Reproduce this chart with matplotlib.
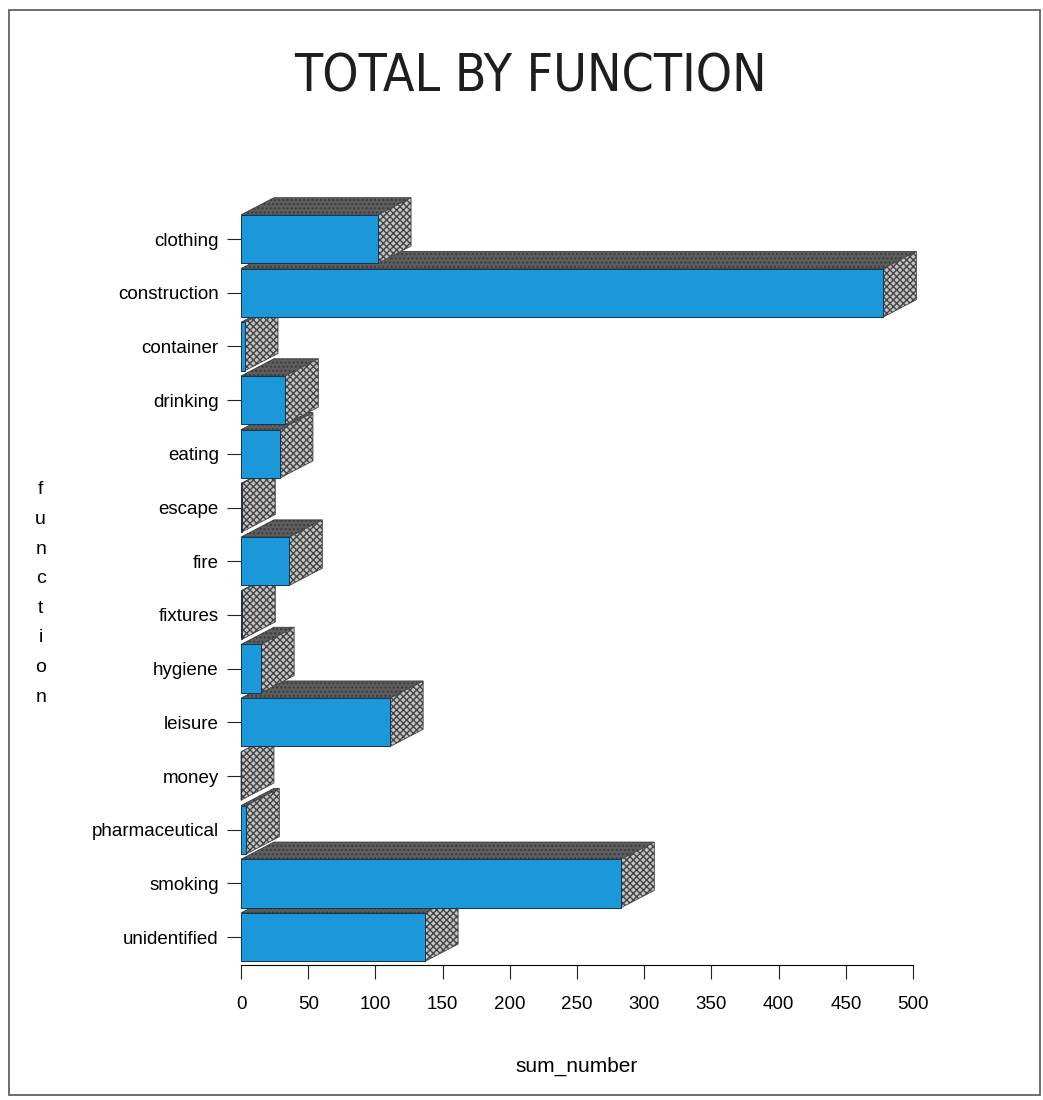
import matplotlib.pyplot as plt
from matplotlib.patches import Polygon, Rectangle

categories = ['clothing', 'construction', 'container', 'drinking', 'eating', 'escape',
              'fire', 'fixtures', 'hygiene', 'leisure', 'money', 'pharmaceutical',
              'smoking', 'unidentified']
sum_number = [102, 478, 3, 33, 29, 1, 36, 1, 15, 111, 0, 4, 283, 137]
x_ticks = [0, 50, 100, 150, 200, 250, 300, 350, 400, 450, 500]

BLUE = '#1b98da'
label_font = ['Liberation Sans', 'DejaVu Sans']

fig = plt.figure(figsize=(10.43, 11), dpi=100)
ax = fig.add_axes([0.2311, 0.1227, 0.6443, 0.7088])
ax.set_xlim(0, 500)
ax.set_ylim(13.52, -1.0)

# 3d offsets in data units
dx = 24.5
dy = 0.32
h = 0.9

# draw from bottom to top so upper bars cover lower bars' top faces
for i in range(len(categories) - 1, -1, -1):
    v = sum_number[i]
    top = i - h / 2
    bot = i + h / 2
    top_face = Polygon([(0, top), (v, top), (v + dx, top - dy), (dx, top - dy)],
                       closed=True, facecolor='#5e5e5e', edgecolor='#3a3a3a',
                       hatch='....', linewidth=0.6, clip_on=False, zorder=3)
    side_face = Polygon([(v, top), (v + dx, top - dy), (v + dx, bot - dy), (v, bot)],
                        closed=True, facecolor='#c4c4c4', edgecolor='#444444',
                        hatch='xxxxx', linewidth=0.6, clip_on=False, zorder=3)
    front = Rectangle((0, top), v, h, facecolor=BLUE, edgecolor='#17324d',
                      linewidth=0.7, clip_on=False, zorder=3)
    ax.add_patch(top_face)
    ax.add_patch(side_face)
    ax.add_patch(front)

ax.set_yticks(range(len(categories)))
ax.set_yticklabels(categories, family=label_font, fontsize=13.5)
ax.set_xticks(x_ticks)
ax.set_xticklabels([str(t) for t in x_ticks], family=label_font, fontsize=13.5)
ax.tick_params(axis='both', length=10, width=0.8, color='#222222', pad=6)
ax.tick_params(axis='x', pad=12)
for s in ['top', 'right', 'left']:
    ax.spines[s].set_visible(False)
ax.spines['bottom'].set_linewidth(0.8)

ax.set_xlabel('sum_number', family=label_font, fontsize=15, labelpad=32)

# vertical stacked y label
letters = 'function'
for k, ch in enumerate(letters):
    fig.text(0.039, 1 - (490 + k * 29.6) / 1100, ch, family=label_font,
             fontsize=14, ha='center', va='center')

fig.text(0.509, 1 - 77 / 1100, 'TOTAL BY FUNCTION',
         family=['DejaVu Sans'], fontstretch='condensed', fontsize=37,
         ha='center', va='center', color='#1e1e1e')

fig.patches.append(Rectangle((9 / 1043, 5 / 1100), 1031 / 1043, 1085 / 1100,
                             transform=fig.transFigure, fill=False,
                             edgecolor='#555555', linewidth=1.2))

fig.savefig('out.png', dpi=100)
